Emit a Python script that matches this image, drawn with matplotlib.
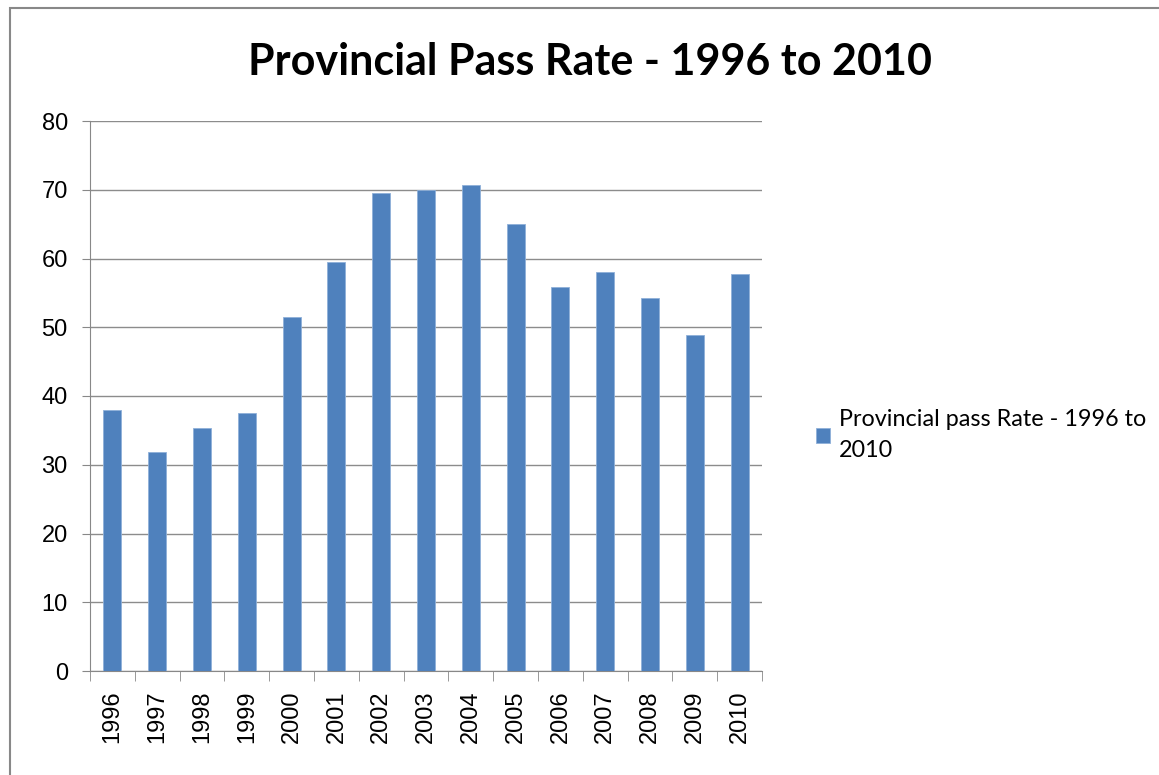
import matplotlib
matplotlib.use("Agg")
import matplotlib.pyplot as plt
from matplotlib.patches import Rectangle
import numpy as np

years = ['1996', '1997', '1998', '1999', '2000', '2001', '2002', '2003',
         '2004', '2005', '2006', '2007', '2008', '2009', '2010']
pass_rate = [38.0, 31.9, 35.3, 37.5, 51.5, 59.5, 69.6, 70.0,
             70.7, 65.0, 55.8, 58.0, 54.3, 48.9, 57.8]

plt.rcParams['font.family'] = ['Lato', 'DejaVu Sans']

fig = plt.figure(figsize=(11.59, 7.75), dpi=100)
fig.patches.append(Rectangle((10 / 1159, -0.1), 1.2, 1.1 - 8 / 775, transform=fig.transFigure,
                             fill=False, edgecolor='#888888', linewidth=1.5))

ax = fig.add_axes([90 / 1159, 1 - 671 / 775, 672 / 1159, 550 / 775])
x = np.arange(len(years))
ax.bar(x, pass_rate, width=0.4, color='#4f81bd', edgecolor='#8fb0d9', linewidth=0.6,
       label='Provincial pass Rate - 1996 to\n2010', zorder=3)

ax.set_xlim(-0.5, len(years) - 0.5)
ax.set_ylim(0, 80)
ax.set_yticks(range(0, 81, 10))
ax.yaxis.grid(True, color='#8c8c8c', linewidth=1.0, zorder=0)
ax.set_xticks(x)
ax.set_xticklabels(years, rotation=90, fontsize=17, family=['Liberation Sans'])
ax.tick_params(axis='x', length=0, pad=14)
ax.set_xticks(np.arange(-0.5, len(years), 1), minor=True)
ax.tick_params(axis='x', which='minor', length=7, color='#888888')
ax.tick_params(axis='y', length=6, color='#888888', labelsize=17, pad=10)
for lab in ax.get_yticklabels():
    lab.set_family(['Liberation Sans'])
for s in ['top', 'right']:
    ax.spines[s].set_visible(False)
for s in ['left', 'bottom']:
    ax.spines[s].set_color('#888888')

fig.text(590 / 1159, 1 - 62 / 775, 'Provincial Pass Rate - 1996 to 2010',
         ha='center', va='center', fontsize=31, fontweight='bold')

leg = ax.legend(loc='center left', bbox_to_anchor=(795 / 1159, 1 - 435 / 775),
                bbox_transform=fig.transFigure, frameon=False, fontsize=16.8,
                handlelength=0.6, handleheight=0.6, handletextpad=0.4)
for t in leg.get_texts():
    t.set_linespacing(1.55)

fig.savefig('out.png', dpi=100)
